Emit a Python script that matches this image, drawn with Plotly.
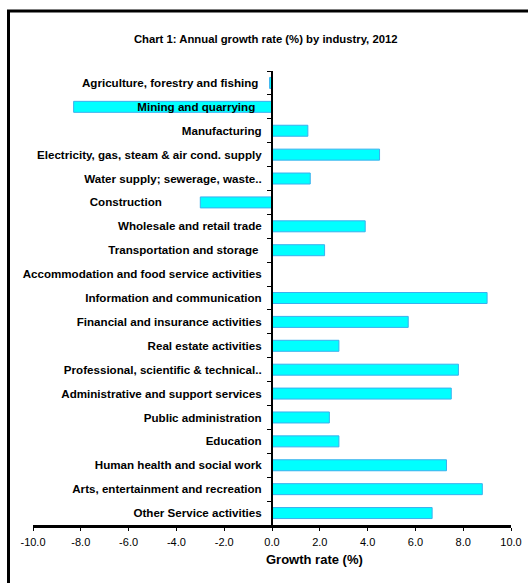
import plotly.graph_objects as go

categories = [
    "Agriculture, forestry and fishing",
    "Mining and quarrying",
    "Manufacturing",
    "Electricity, gas, steam & air cond. supply",
    "Water supply; sewerage, waste..",
    "Construction",
    "Wholesale and retail trade",
    "Transportation and storage",
    "Accommodation and food service activities",
    "Information and communication",
    "Financial and insurance activities",
    "Real estate activities",
    "Professional, scientific & technical..",
    "Administrative and support services",
    "Public administration",
    "Education",
    "Human health and social work",
    "Arts, entertainment and recreation",
    "Other Service activities",
]
growth = [-0.1, -8.3, 1.5, 4.5, 1.6, -3.0, 3.9, 2.2, 0.0, 9.0,
          5.7, 2.8, 7.8, 7.5, 2.4, 2.8, 7.3, 8.8, 6.7]

x_tickvals = [-10, -8, -6, -4, -2, 0, 2, 4, 6, 8, 10]
x_ticktext = [f"{v:.1f}" for v in x_tickvals]

title_text = "Chart 1: Annual growth rate (%) by industry, 2012"
x_title = "Growth rate (%)"

# trailing padding (non-breaking spaces) reproducing label offsets in the original
pad = {"Agriculture, forestry and fishing": 1, "Mining and quarrying": 2,
       "Construction": 31, "Transportation and storage": 1}
ticktext = [c + "\u00a0" * pad.get(c, 0) for c in categories]

FAM = "Liberation Sans, Arial"
label_font = dict(family=FAM, size=11.6, color="black", weight="bold")

fig = go.Figure(go.Bar(
    x=growth, y=categories, orientation="h",
    marker=dict(color="#00FFFF", line=dict(color="#3AB0EE", width=1)),
))

W, H = 528, 583
L, R, T, B = 33, 17, 70.5, 58

fig.update_layout(
    width=W, height=H,
    margin=dict(l=L, r=R, t=T, b=B, pad=0, autoexpand=False),
    paper_bgcolor="white", plot_bgcolor="white",
    showlegend=False,
    bargap=0.54,
    title=dict(text=title_text, x=265.7 / W, y=1 - 39 / H, xref="container", yref="container",
               xanchor="center", yanchor="middle", automargin=False,
               font=dict(family=FAM, size=11.3, color="black", weight="bold")),
    xaxis=dict(range=[-10, 10], tickvals=x_tickvals, ticktext=x_ticktext, automargin=False,
               showgrid=False, zeroline=False, showline=True, linecolor="black", linewidth=3,
               ticks="outside", ticklen=3, tickwidth=1, tickcolor="black",
               ticklabelstandoff=2,
               tickfont=dict(family=FAM, size=11, color="black"),
               fixedrange=True),
    yaxis=dict(type="category", autorange="reversed", tickvals=categories, ticktext=ticktext,
               anchor="free", position=0.5, automargin=False,
               showgrid=False, zeroline=False, showline=True, linecolor="black", linewidth=2,
               ticks="outside", ticklen=4, tickwidth=1, tickcolor="black", tickson="boundaries",
               ticklabelstandoff=7,
               tickfont=label_font, fixedrange=True),
    annotations=[dict(text=x_title, xref="paper", yref="paper",
                      x=(314 - L) / (W - L - R), y=(525 - 560) / (H - T - B),
                      xanchor="center", yanchor="middle", showarrow=False,
                      font=dict(family=FAM, size=13, color="black", weight="bold"))],
)

pw, ph = W - L - R, H - T - B
fx = lambda px: (px - L) / pw
fy = lambda py: (H - B - py) / ph
frame = dict(color="black", width=3)
fig.add_shape(type="line", xref="paper", yref="paper", x0=fx(8.5), x1=fx(8.5), y0=fy(10.5), y1=fy(620), line=frame)
fig.add_shape(type="line", xref="paper", yref="paper", x0=fx(7), x1=fx(620), y0=fy(10.5), y1=fy(10.5), line=frame)

fig.write_html("out.html")
